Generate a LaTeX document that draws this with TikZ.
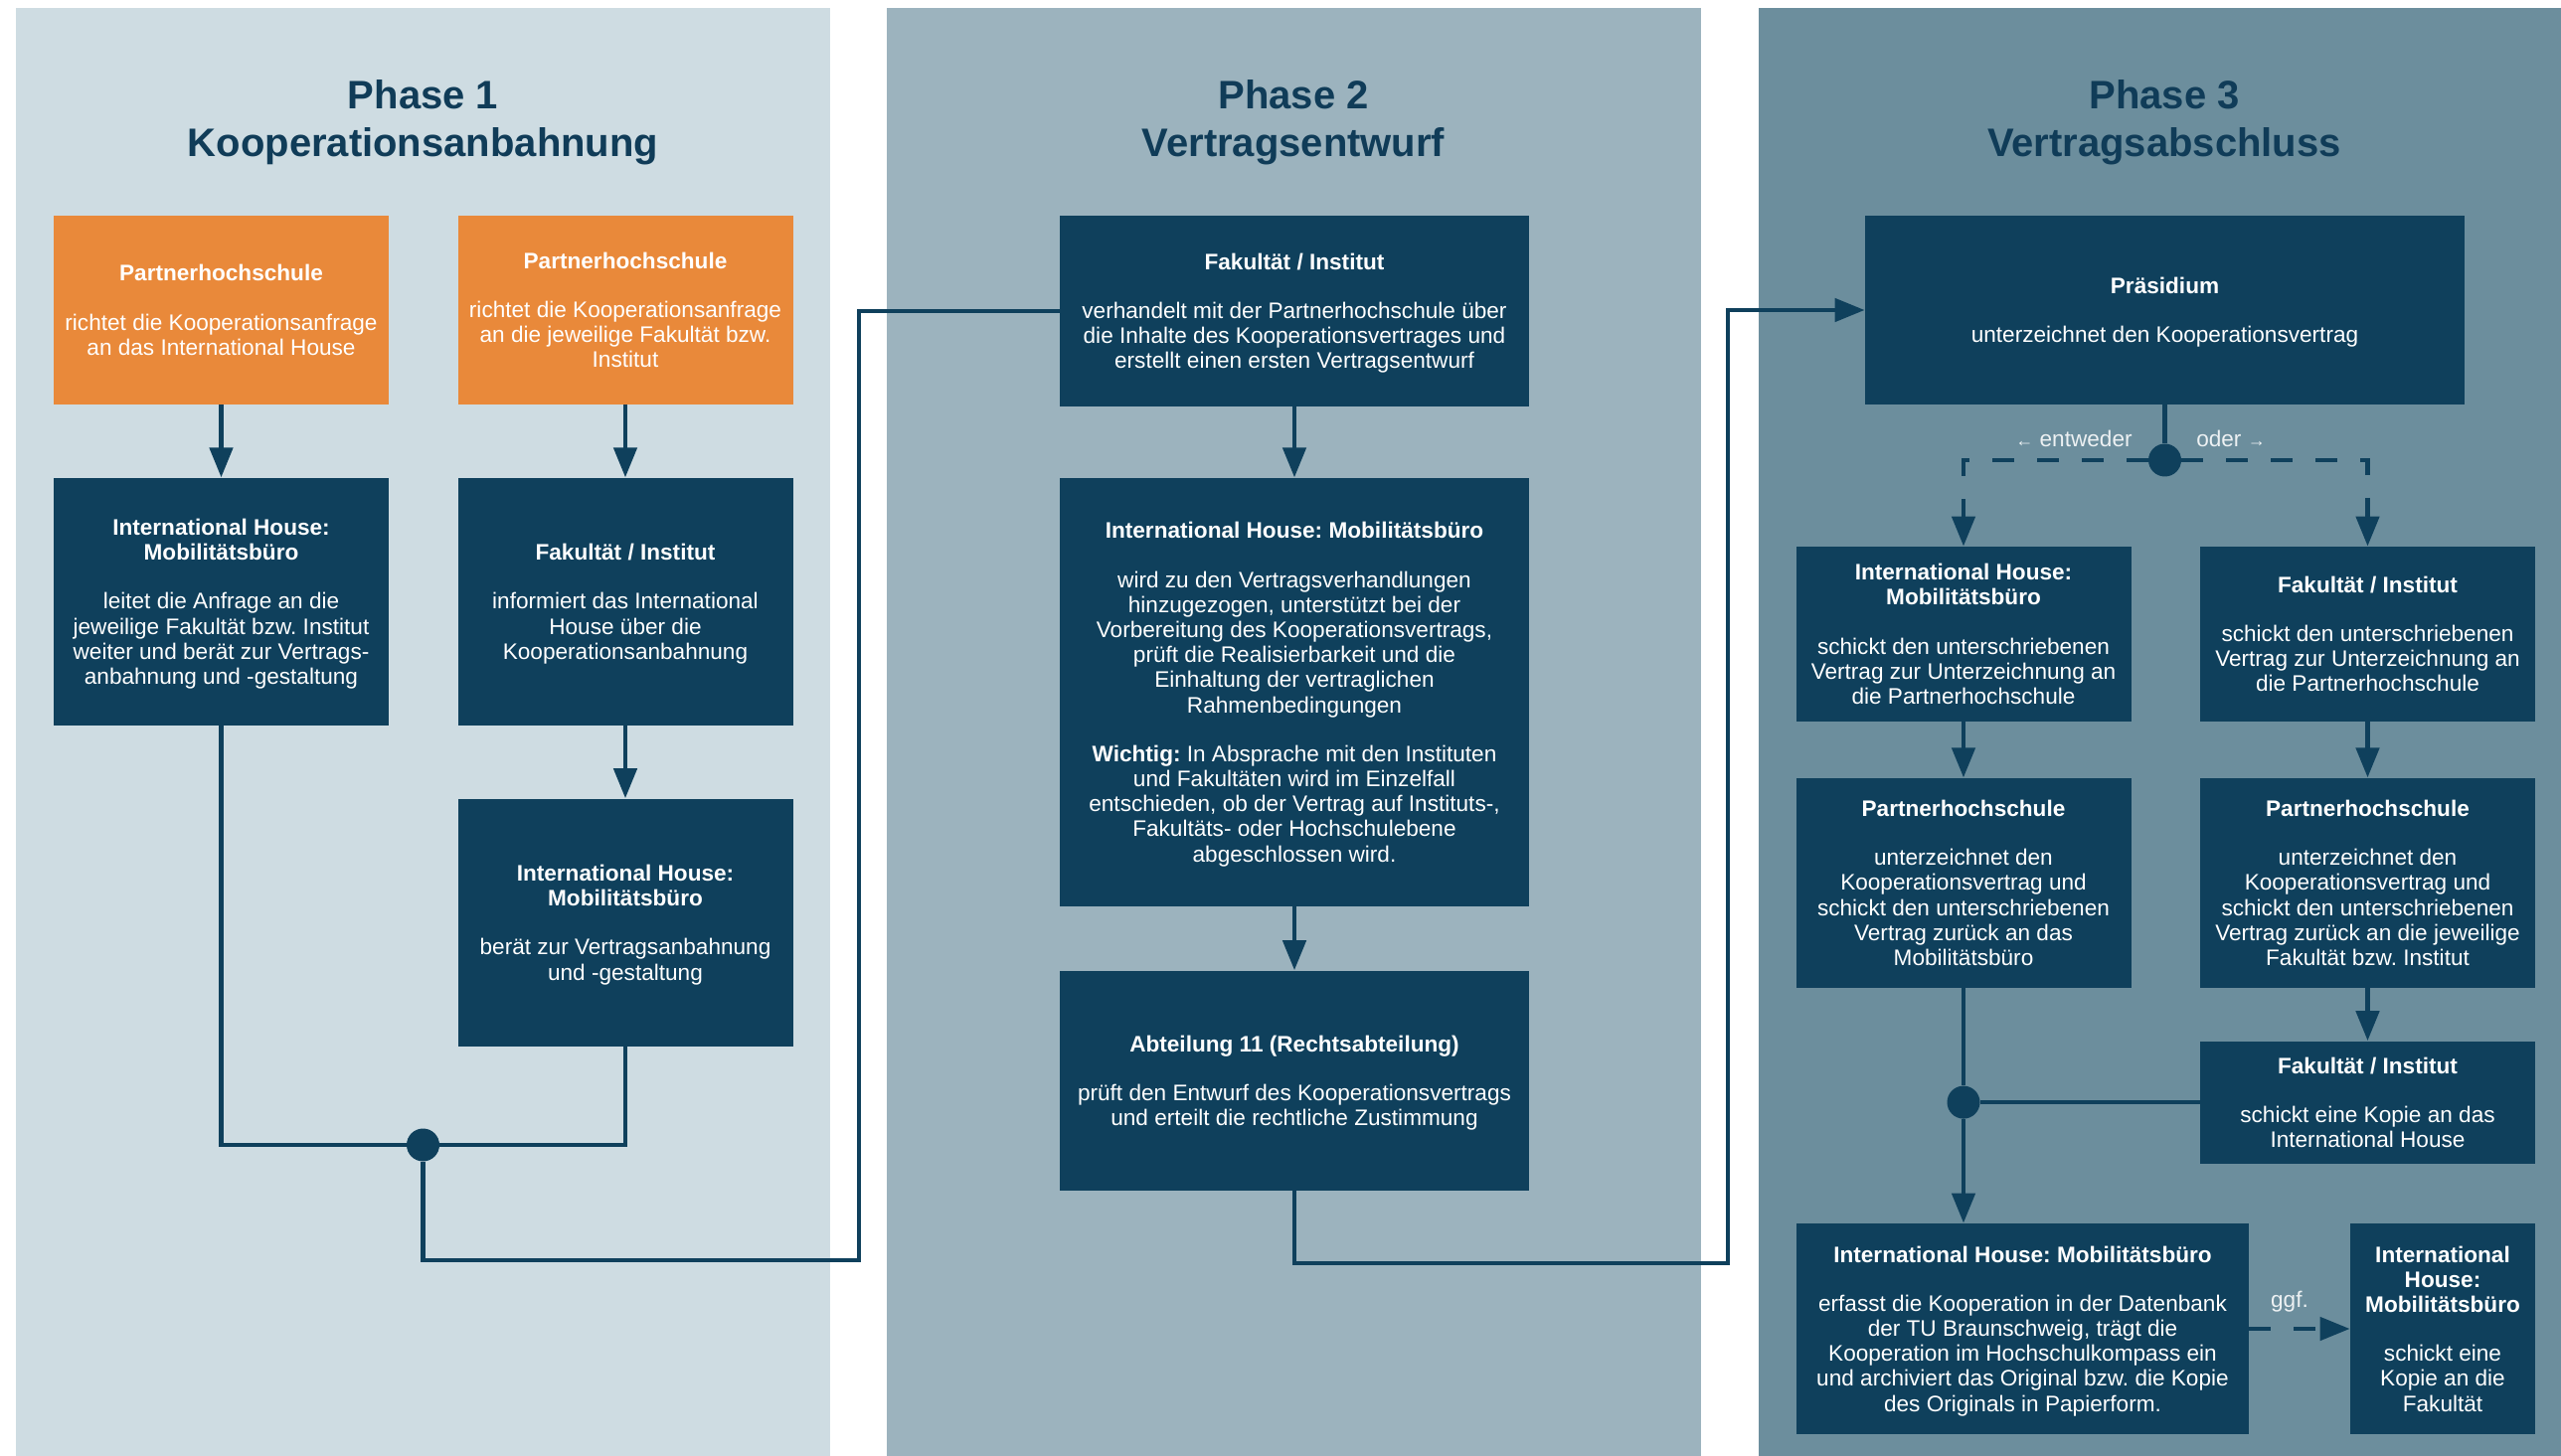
\documentclass[tikz,border=0pt]{standalone}
\usepackage{fontspec}
\setmainfont{Liberation Sans}
\frenchspacing
\usetikzlibrary{positioning,arrows.meta,calc}

\definecolor{phaseone}{RGB}{206,220,226}
\definecolor{phasetwo}{RGB}{156,179,190}
\definecolor{phasethree}{RGB}{108,142,157}
\definecolor{tubox}{RGB}{15,64,92}
\definecolor{tuorange}{RGB}{233,137,58}
\definecolor{tutitle}{RGB}{16,60,88}

\tikzset{
  box/.style={fill=tubox, text=white, align=center, inner sep=0pt,
    minimum width=168.5pt, font=\fontsize{11.3}{12.6}\selectfont,
    text depth=-1pt},
  orangebox/.style={box, fill=tuorange},
  link/.style={line width=2.3pt, draw=tubox},
  flow/.style={link, -{Triangle[length=15pt,width=11.5pt]}},
  choice/.style={flow, dash pattern=on 11pt off 11.5pt},
  junction/.style={circle, fill=tubox, inner sep=0pt, minimum size=16.5pt},
  phasetitle/.style={text=tutitle, align=center, inner sep=0pt,
    font=\bfseries\fontsize{20}{24}\selectfont},
  hint/.style={text=white!88!phasethree, inner sep=0pt,
    font=\fontsize{11.3}{12.6}\selectfont}
}

\begin{document}
\begin{tikzpicture}[x=0.5pt, y=-0.5pt, node distance=36.5pt]
    \useasboundingbox (0,0) rectangle (2576,1465);
    \fill[white] (0,0) rectangle (2576,1465);
    \fill[phaseone]   (16,8)   rectangle (835,1465);
    \fill[phasetwo]   (892,8)  rectangle (1711,1465);
    \fill[phasethree] (1769,8) rectangle (2576,1465);

    \node[phasetitle] (t1) at (425.5,123) {Phase 1\\Kooperationsanbahnung};
    \node[phasetitle] (t2) at (1301,123)  {Phase 2\\Vertragsentwurf};
    \node[phasetitle] (t3) at (2177,123)  {Phase 3\\Vertragsabschluss};

    % Phase 1
    \node[orangebox, minimum height=95pt] (req1) at (222.5,312)
      {\textbf{Partnerhochschule}\\[12pt]richtet die Kooperationsanfrage\\an das International House};
    \node[orangebox, minimum height=95pt] (req2) at (629,312)
      {\textbf{Partnerhochschule}\\[12pt]richtet die Kooperationsanfrage\\an die jeweilige Fakultät bzw.\\Institut};
    \node[box, minimum height=124.5pt, below=of req1] (mob1)
      {\textbf{International House:}\\\textbf{Mobilitätsbüro}\\[12pt]leitet die Anfrage an die\\jeweilige Fakultät bzw. Institut\\weiter und berät zur Vertrags-\\anbahnung und -gestaltung};
    \node[box, minimum height=124.5pt, below=of req2] (fak1)
      {\textbf{Fakultät / Institut}\\[12pt]informiert das International\\House über die\\Kooperationsanbahnung};
    \node[box, minimum height=124.5pt, below=of fak1] (mob2)
      {\textbf{International House:}\\\textbf{Mobilitätsbüro}\\[12pt]berät zur Vertragsanbahnung\\und -gestaltung};
    \node[junction] (j1) at (425.5,1152) {};
    \coordinate (c1) at (864,1268);

    % Phase 2
    \node[box, minimum width=236pt, minimum height=96pt] (fak2) at (1302,313)
      {\textbf{Fakultät / Institut}\\[12pt]verhandelt mit der Partnerhochschule über\\die Inhalte des Kooperationsvertrages und\\erstellt einen ersten Vertragsentwurf};
    \node[box, minimum width=236pt, minimum height=215.5pt, below=35.5pt of fak2] (mob3)
      {\textbf{International House: Mobilitätsbüro}\\[12pt]wird zu den Vertragsverhandlungen\\hinzugezogen, unterstützt bei der\\Vorbereitung des Kooperationsvertrags,\\prüft die Realisierbarkeit und die\\Einhaltung der vertraglichen\\Rahmenbedingungen\\[12pt]\textbf{Wichtig:} In Absprache mit den Instituten\\und Fakultäten wird im Einzelfall\\entschieden, ob der Vertrag auf Instituts-,\\Fakultäts- oder Hochschulebene\\abgeschlossen wird.};
    \node[box, minimum width=236pt, minimum height=110.5pt, below=32pt of mob3] (law)
      {\textbf{Abteilung 11 (Rechtsabteilung)}\\[12pt]prüft den Entwurf des Kooperationsvertrags\\und erteilt die rechtliche Zustimmung};
    \coordinate (c2) at (1738,1271);

    % Phase 3
    \node[box, minimum width=301.5pt, minimum height=95pt] (pres) at (2177.5,312)
      {\textbf{Präsidium}\\[12pt]unterzeichnet den Kooperationsvertrag};
    \node[junction] (j2) at (2177.5,463) {};
    \node[hint] (either) at (2086,441) {{\fontsize{9}{9}\selectfont ←}\ entweder};
    \node[hint] (or) at (2244,441) {oder\ {\fontsize{9}{9}\selectfont →}};
    \node[box, minimum height=88pt] (mob4) at (1975,638)
      {\textbf{International House:}\\\textbf{Mobilitätsbüro}\\[12pt]schickt den unterschriebenen\\Vertrag zur Unterzeichnung an\\die Partnerhochschule};
    \node[box, minimum height=88pt] (fak3) at (2381.5,638)
      {\textbf{Fakultät / Institut}\\[12pt]schickt den unterschriebenen\\Vertrag zur Unterzeichnung an\\die Partnerhochschule};
    \node[box, minimum height=105.5pt, below=28pt of mob4] (back1)
      {\textbf{Partnerhochschule}\\[12pt]unterzeichnet den\\Kooperationsvertrag und\\schickt den unterschriebenen\\Vertrag zurück an das\\Mobilitätsbüro};
    \node[box, minimum height=105.5pt, below=28pt of fak3] (back2)
      {\textbf{Partnerhochschule}\\[12pt]unterzeichnet den\\Kooperationsvertrag und\\schickt den unterschriebenen\\Vertrag zurück an die jeweilige\\Fakultät bzw. Institut};
    \node[box, minimum height=61.5pt, below=26.5pt of back2] (fak4)
      {\textbf{Fakultät / Institut}\\[12pt]schickt eine Kopie an das\\International House};
    \node[junction] (j3) at (back1 |- fak4) {};
    \node[box, minimum width=227.5pt, minimum height=106pt] (mob5) at (2034.5,1337)
      {\textbf{International House: Mobilitätsbüro}\\[12pt]erfasst die Kooperation in der Datenbank\\der TU Braunschweig, trägt die\\Kooperation im Hochschulkompass ein\\und archiviert das Original bzw. die Kopie\\des Originals in Papierform.};
    \node[box, minimum width=93pt, minimum height=106pt] (mob6) at (2457,1337)
      {\textbf{International}\\\textbf{House:}\\\textbf{Mobilitätsbüro}\\[12pt]schickt eine\\Kopie an die\\Fakultät};
    \node[hint] (maybe) at (2303,1310) {ggf.};

    \draw[flow] (req1) -- (mob1);
    \draw[flow] (req2) -- (fak1);
    \draw[flow] (fak1) -- (mob2);
    \draw[link] (mob1) |- (j1);
    \draw[link] (mob2) |- (j1);
    \draw[link] (j1) |- (c1) |- (fak2);

    \draw[flow] (fak2) -- (mob3);
    \draw[flow] (mob3) -- (law);
    \draw[flow] (law) |- (c2) |- (pres);

    \draw[link]   (pres) -- (j2);
    \draw[choice] (j2) -| (mob4);
    \draw[choice] (j2) -| (fak3);
    \draw[flow]   (mob4) -- (back1);
    \draw[flow]   (fak3) -- (back2);
    \draw[flow]   (back2) -- (fak4);
    \draw[link]   (back1) -- (j3);
    \draw[link]   (fak4) -- (j3);
    \draw[flow]   (j3) -- (j3 |- mob5.north);
    \draw[choice] (mob5) -- (mob6);
  \end{tikzpicture}
\end{document}
